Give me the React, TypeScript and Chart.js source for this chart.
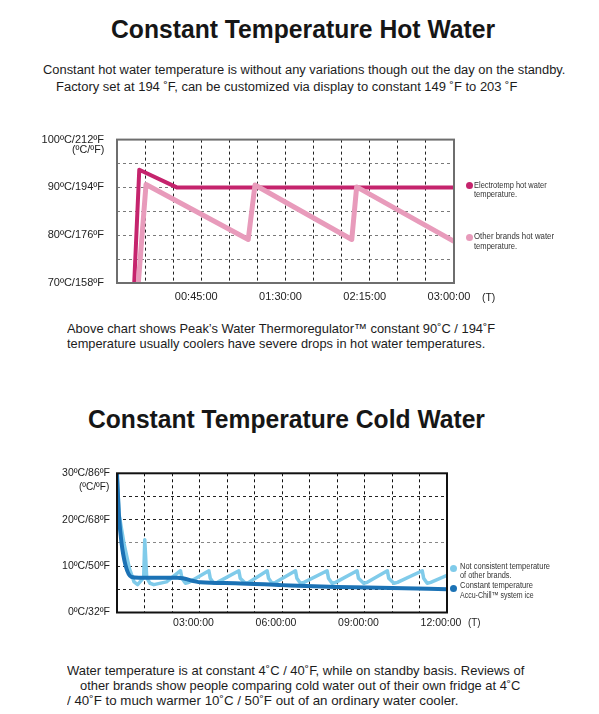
import React, { useEffect, useLayoutEffect, useRef, useState } from "react";
import { Chart, registerables } from "chart.js";

Chart.register(...registerables);

const FONT = "'Liberation Sans', Arial, Helvetica, sans-serif";

// hot water: time in minutes, temperature in °C
const hotElectroMinutes = [9.2, 11.9, 31.9, 180];
const hotElectroTemps = [70, 93.7, 90, 90];
const hotOtherMinutes = [11.4, 15.5, 70.1, 73.7, 125.4, 128, 180];
const hotOtherTemps = [70, 90.6, 79.1, 90.5, 79.1, 90.1, 78.7];
const hotTempTicks = [70, 80, 90, 100];
const hotTempLabels = ["70ºC/158ºF", "80ºC/176ºF", "90ºC/194ºF", "100ºC/212ºF"];
const hotTimeTicks = [45, 90, 135, 180];
const hotTimeLabels = ["00:45:00", "01:30:00", "02:15:00", "03:00:00"];

// cold water: time in hours, temperature in °C
const coldAccuHours = [0, 0.07, 0.16, 0.31, 0.52, 0.8, 2.2, 3.04, 4.3, 6, 8, 10, 12];
const coldAccuTemps = [30, 21, 15.2, 10.2, 7.7, 7.5, 7.5, 6.5, 6.3, 5.9, 5.5, 5.3, 5.0];
const coldOtherHours = [
  0, 0.08, 0.25, 0.45, 0.62, 0.75, 0.97, 1.01, 1.08, 1.2, 1.34, 1.8,
  2.31, 2.36, 2.49, 2.62, 3.34, 3.39, 3.52, 3.65, 4.43, 4.48, 4.67, 4.8,
  5.46, 5.51, 5.64, 5.77, 6.49, 6.54, 6.67, 6.8, 7.64, 7.69, 7.82, 7.95,
  8.73, 8.78, 8.97, 9.1, 9.83, 9.88, 10.07, 10.2, 11.1, 11.15, 11.28, 11.41, 12,
];
const coldOtherTemps = [
  30, 21, 15, 9.5, 6.6, 6.0, 7.5, 15.7, 7.5, 6.3, 6.0, 6.6,
  9.0, 7.4, 6.3, 6.5, 9.0, 7.4, 6.3, 6.5, 9.0, 7.4, 6.3, 6.5,
  9.0, 7.4, 6.3, 6.5, 9.0, 7.4, 6.3, 6.5, 9.0, 7.4, 6.3, 6.5,
  9.0, 7.4, 6.3, 6.5, 9.0, 7.4, 6.3, 6.5, 9.0, 7.4, 6.3, 6.5, 8.0,
];
const coldTempTicks = [0, 10, 20, 30];
const coldTempLabels = ["0ºC/32ºF", "10ºC/50ºF", "20ºC/68ºF", "30ºC/86ºF"];
const coldTimeTicks = [3, 6, 9, 12];
const coldTimeLabels = ["03:00:00", "06:00:00", "09:00:00", "12:00:00"];

type TextProps = {
  text: string;
  x: number;
  right: number;
  base: number;
  size: number;
  bold?: boolean;
  color?: string;
};

// a line of text placed by its baseline and squeezed to the measured width
const Line: React.FC<TextProps> = ({ text, x, right, base, size, bold, color = "#1c1c1c" }) => {
  const ref = useRef<HTMLSpanElement>(null);
  const [sx, setSx] = useState(1);
  useLayoutEffect(() => {
    if (ref.current && ref.current.offsetWidth) setSx((right - x) / ref.current.offsetWidth);
  }, [text, x, right, size]);
  return (
    <span
      ref={ref}
      style={{
        position: "absolute",
        left: x,
        top: base - size * 0.8465,
        fontFamily: FONT,
        fontSize: size,
        lineHeight: `${size}px`,
        fontWeight: bold ? 700 : 400,
        whiteSpace: "nowrap",
        color,
        transformOrigin: "0 0",
        transform: `scaleX(${sx})`,
      }}
    >
      {text}
    </span>
  );
};

const Dot: React.FC<{ x: number; y: number; color: string }> = ({ x, y, color }) => (
  <div
    style={{
      position: "absolute",
      left: x - 3.5,
      top: y - 3.5,
      width: 7,
      height: 7,
      borderRadius: "50%",
      background: color,
    }}
  />
);

type Series = { xs: number[]; ys: number[]; color: string; width: number; smooth?: boolean };

type ChartCfg = {
  top: number;
  height: number;
  padTop: number;
  padRight: number;
  yAxisWidth: number;
  xAxisHeight: number;
  xMax: number;
  xStep: number;
  xTicks: number[];
  xLabels: string[];
  xLabelOffset: number;
  xPad: number;
  yMin: number;
  yMax: number;
  yTicks: number[];
  yLabels: string[];
  yPad: number;
  fontSize: number;
  frameColor: string;
  vGrid: string;
  hGrid: (v: number) => string;
  series: Series[];
};

const TempChart: React.FC<{ cfg: ChartCfg }> = ({ cfg }) => {
  const canvasRef = useRef<HTMLCanvasElement>(null);
  useEffect(() => {
    if (!canvasRef.current) return;

    const frame = {
      id: "frame",
      afterDatasetsDraw(chart: Chart) {
        const { ctx, chartArea } = chart;
        ctx.save();
        ctx.strokeStyle = cfg.frameColor;
        ctx.lineWidth = 2;
        ctx.strokeRect(chartArea.left, chartArea.top, chartArea.right - chartArea.left, chartArea.bottom - chartArea.top);
        ctx.restore();
      },
    };

    const chart = new Chart(canvasRef.current, {
      type: "line",
      data: {
        datasets: cfg.series.map((s) => ({
          data: s.xs.map((x, i) => ({ x, y: s.ys[i] })),
          borderColor: s.color,
          borderWidth: s.width,
          borderJoinStyle: "round" as const,
          pointRadius: 0,
          fill: false,
          tension: 0,
          cubicInterpolationMode: s.smooth ? ("monotone" as const) : ("default" as const),
        })),
      },
      options: {
        animation: false,
        responsive: true,
        maintainAspectRatio: false,
        layout: { padding: { top: cfg.padTop, right: cfg.padRight, left: 0, bottom: 0 } },
        plugins: { legend: { display: false }, tooltip: { enabled: false } },
        scales: {
          x: {
            type: "linear",
            min: 0,
            max: cfg.xMax,
            afterFit: (scale: any) => {
              scale.height = cfg.xAxisHeight;
            },
            grid: { color: cfg.vGrid, lineWidth: 1, drawTicks: false },
            border: { display: false, dash: [3, 3] },
            ticks: {
              stepSize: cfg.xStep,
              autoSkip: false,
              maxRotation: 0,
              padding: cfg.xPad,
              labelOffset: cfg.xLabelOffset,
              color: "#222",
              font: { family: FONT, size: cfg.fontSize },
              callback: (v: any) => {
                const i = cfg.xTicks.indexOf(Number(v));
                return i >= 0 ? cfg.xLabels[i] : "";
              },
            },
          },
          y: {
            min: cfg.yMin,
            max: cfg.yMax,
            afterFit: (scale: any) => {
              scale.width = cfg.yAxisWidth;
            },
            grid: {
              color: (ctx: any) => cfg.hGrid(ctx.tick ? ctx.tick.value : 0),
              lineWidth: 1,
              drawTicks: false,
            },
            border: { display: false, dash: [3, 3] },
            ticks: {
              stepSize: 5,
              autoSkip: false,
              padding: cfg.yPad,
              color: "#222",
              font: { family: FONT, size: cfg.fontSize },
              callback: (v: any) => {
                const i = cfg.yTicks.indexOf(Number(v));
                return i >= 0 ? cfg.yLabels[i] : "";
              },
            },
          },
        },
      },
      plugins: [frame],
    });

    return () => {
      chart.destroy();
    };
  }, [cfg]);

  return (
    <div style={{ position: "absolute", left: 0, top: cfg.top, width: 599, height: cfg.height }}>
      <canvas ref={canvasRef} />
    </div>
  );
};

const hotCfg: ChartCfg = {
  top: 120,
  height: 190,
  padTop: 16,
  padRight: 145,
  yAxisWidth: 117,
  xAxisHeight: 27,
  xMax: 180,
  xStep: 15,
  xTicks: hotTimeTicks,
  xLabels: hotTimeLabels,
  xLabelOffset: -5,
  xPad: 7,
  yMin: 70,
  yMax: 100,
  yTicks: hotTempTicks,
  yLabels: hotTempLabels,
  yPad: 13,
  fontSize: 11,
  frameColor: "#6e6e6e",
  vGrid: "#222",
  hGrid: () => "#7a7a7a",
  series: [
    { xs: hotOtherMinutes, ys: hotOtherTemps, color: "#e89bbb", width: 5 },
    { xs: hotElectroMinutes, ys: hotElectroTemps, color: "#c5246d", width: 4 },
  ],
};

const coldCfg: ChartCfg = {
  top: 460,
  height: 180,
  padTop: 12.7,
  padRight: 152,
  yAxisWidth: 117,
  xAxisHeight: 27.5,
  xMax: 12,
  xStep: 1,
  xTicks: coldTimeTicks,
  xLabels: coldTimeLabels,
  xLabelOffset: -6,
  xPad: 4,
  yMin: 0,
  yMax: 30,
  yTicks: coldTempTicks,
  yLabels: coldTempLabels,
  yPad: 7,
  fontSize: 10.5,
  frameColor: "#111",
  vGrid: "#111",
  hGrid: (v) => (v === 15 ? "#888" : "#222"),
  series: [
    { xs: coldAccuHours, ys: coldAccuTemps, color: "#1b72b5", width: 4, smooth: true },
    { xs: coldOtherHours, ys: coldOtherTemps, color: "#80cbea", width: 3.5 },
  ],
};

export default function App() {
  return (
    <div
      style={{
        position: "absolute",
        left: 0,
        top: 0,
        width: 599,
        height: 714,
        background: "#fff",
        overflow: "hidden",
      }}
    >
      <Line text="Constant Temperature Hot Water" x={111.4} right={496} base={38.5} size={26} bold color="#161616" />
      <Line
        text="Constant hot water temperature is without any variations though out the day on the standby."
        x={43.3}
        right={566}
        base={74.3}
        size={12}
      />
      <Line
        text="Factory set at 194 ˚F, can be customized via display to constant 149 ˚F to 203 ˚F"
        x={56}
        right={517.5}
        base={91}
        size={12}
      />

      <TempChart cfg={hotCfg} />
      <Line text="(ºC/ºF)" x={71.7} right={104} base={153} size={11} />
      <Line text="(T)" x={481.7} right={495} base={301} size={11} />
      <Dot x={469} y={185.7} color="#c5246d" />
      <Line text="Electrotemp hot water" x={474} right={547} base={188.3} size={9} color="#333" />
      <Line text="temperature." x={474} right={517} base={197.3} size={9} color="#333" />
      <Dot x={469} y={237.7} color="#e89bbb" />
      <Line text="Other brands hot water" x={474} right={554} base={240} size={9} color="#333" />
      <Line text="temperature." x={474} right={517} base={249.3} size={9} color="#333" />

      <Line
        text="Above chart shows Peak’s Water Thermoregulator™ constant 90˚C / 194˚F"
        x={66.7}
        right={495}
        base={332.7}
        size={13}
      />
      <Line
        text="temperature usually coolers have severe drops in hot water temperatures."
        x={66.7}
        right={485}
        base={348.3}
        size={13}
      />

      <Line text="Constant Temperature Cold Water" x={88} right={485} base={428.3} size={26} bold color="#161616" />

      <TempChart cfg={coldCfg} />
      <Line text="(ºC/ºF)" x={79.3} right={110} base={490} size={10.5} />
      <Line text="(T)" x={468} right={480} base={626} size={10.5} />
      <Dot x={453.3} y={568.3} color="#80cbea" />
      <Line text="Not consistent temperature" x={460} right={550} base={568.7} size={8.5} color="#333" />
      <Line text="of other brands." x={460} right={512} base={578.3} size={8.5} color="#333" />
      <Dot x={453.3} y={588.3} color="#1b72b5" />
      <Line text="Constant temperature" x={460} right={532.7} base={588.3} size={8.5} color="#333" />
      <Line text="Accu-Chill™ system ice" x={460} right={533.3} base={597.7} size={8.5} color="#333" />

      <Line
        text="Water temperature is at constant 4˚C / 40˚F, while on standby basis. Reviews of"
        x={67.3}
        right={525}
        base={675}
        size={13}
      />
      <Line
        text="other brands show people comparing cold water out of their own fridge at 4˚C"
        x={80}
        right={520}
        base={690}
        size={13}
      />
      <Line
        text="/ 40˚F to much warmer 10˚C / 50˚F out of an ordinary water cooler."
        x={66.7}
        right={458}
        base={705}
        size={13}
      />
    </div>
  );
}
